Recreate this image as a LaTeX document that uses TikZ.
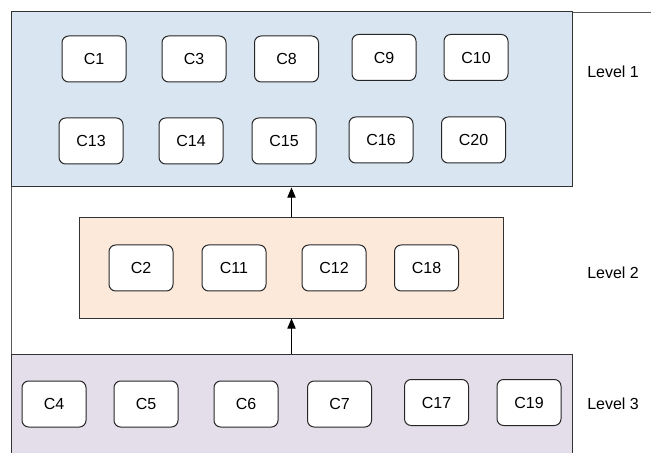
\documentclass[tikz,border=0pt]{standalone}
\usepackage{fontspec}
\setmainfont{Liberation Sans}
\usetikzlibrary{arrows}
\definecolor{lvlblue}{HTML}{DAE5F2}
\definecolor{lvlorange}{HTML}{FDE9DA}
\definecolor{lvlpurple}{HTML}{E3DEEA}
\definecolor{framegray}{HTML}{333333}

\begin{document}
\begin{tikzpicture}[x=0.75pt,y=-0.75pt,font=\fontsize{12}{14}\selectfont]
\tikzstyle{comp}=[rectangle,draw=black!85,rounded corners=5pt,fill=white,minimum width=48pt,minimum height=34.5pt,inner sep=0pt,line width=0.75pt]
\tikzstyle{level}=[rectangle,draw=framegray,line width=0.75pt,inner sep=0pt,minimum width=420.75pt]
\tikzstyle{lbl}=[anchor=west,inner sep=0pt]
\useasboundingbox (0,0) rectangle (651,453);
\clip (0,0) rectangle (651,453);
\draw[gray!70!black,line width=0.5pt] (660,12) -- (11,12) -- (11,460);
\node[level,fill=lvlblue,minimum height=131.25pt] (L1) at (291.5,99.5) {};
\node[level,fill=lvlorange,minimum width=318pt,minimum height=75pt] (L2) at (291.5,268) {};
\node[level,fill=lvlpurple,minimum height=79.5pt] (L3) at (291.5,407) {};
\node[comp] (c1) at (94,59) {C1};
\node[comp] (c3) at (194,59) {C3};
\node[comp] (c8) at (286.5,59) {C8};
\node[comp] (c9) at (384,57.5) {C9};
\node[comp] (c10) at (476,57.5) {C10};
\node[comp] (c13) at (91,141) {C13};
\node[comp] (c14) at (191,141) {C14};
\node[comp] (c15) at (284,141) {C15};
\node[comp] (c16) at (381,140) {C16};
\node[comp] (c20) at (473.5,140) {C20};
\node[comp] (c2) at (141,268) {C2};
\node[comp] (c11) at (234,268) {C11};
\node[comp] (c12) at (334,268) {C12};
\node[comp] (c18) at (426.5,268) {C18};
\node[comp] (c4) at (54,404) {C4};
\node[comp] (c5) at (146,404) {C5};
\node[comp] (c6) at (246,404) {C6};
\node[comp] (c7) at (339.5,404) {C7};
\node[comp] (c17) at (436.5,402.5) {C17};
\node[comp] (c19) at (529,402.5) {C19};
\node[lbl] (lv1) at (587,72) {Level 1};
\node[lbl] (lv2) at (587,273) {Level 2};
\node[lbl] (lv3) at (587,404) {Level 3};
\draw[-triangle 45,line width=0.75pt] (L2.north) -- (L1.south);
\draw[-triangle 45,line width=0.75pt] (L3.north) -- (L2.south);
\end{tikzpicture}
\end{document}
